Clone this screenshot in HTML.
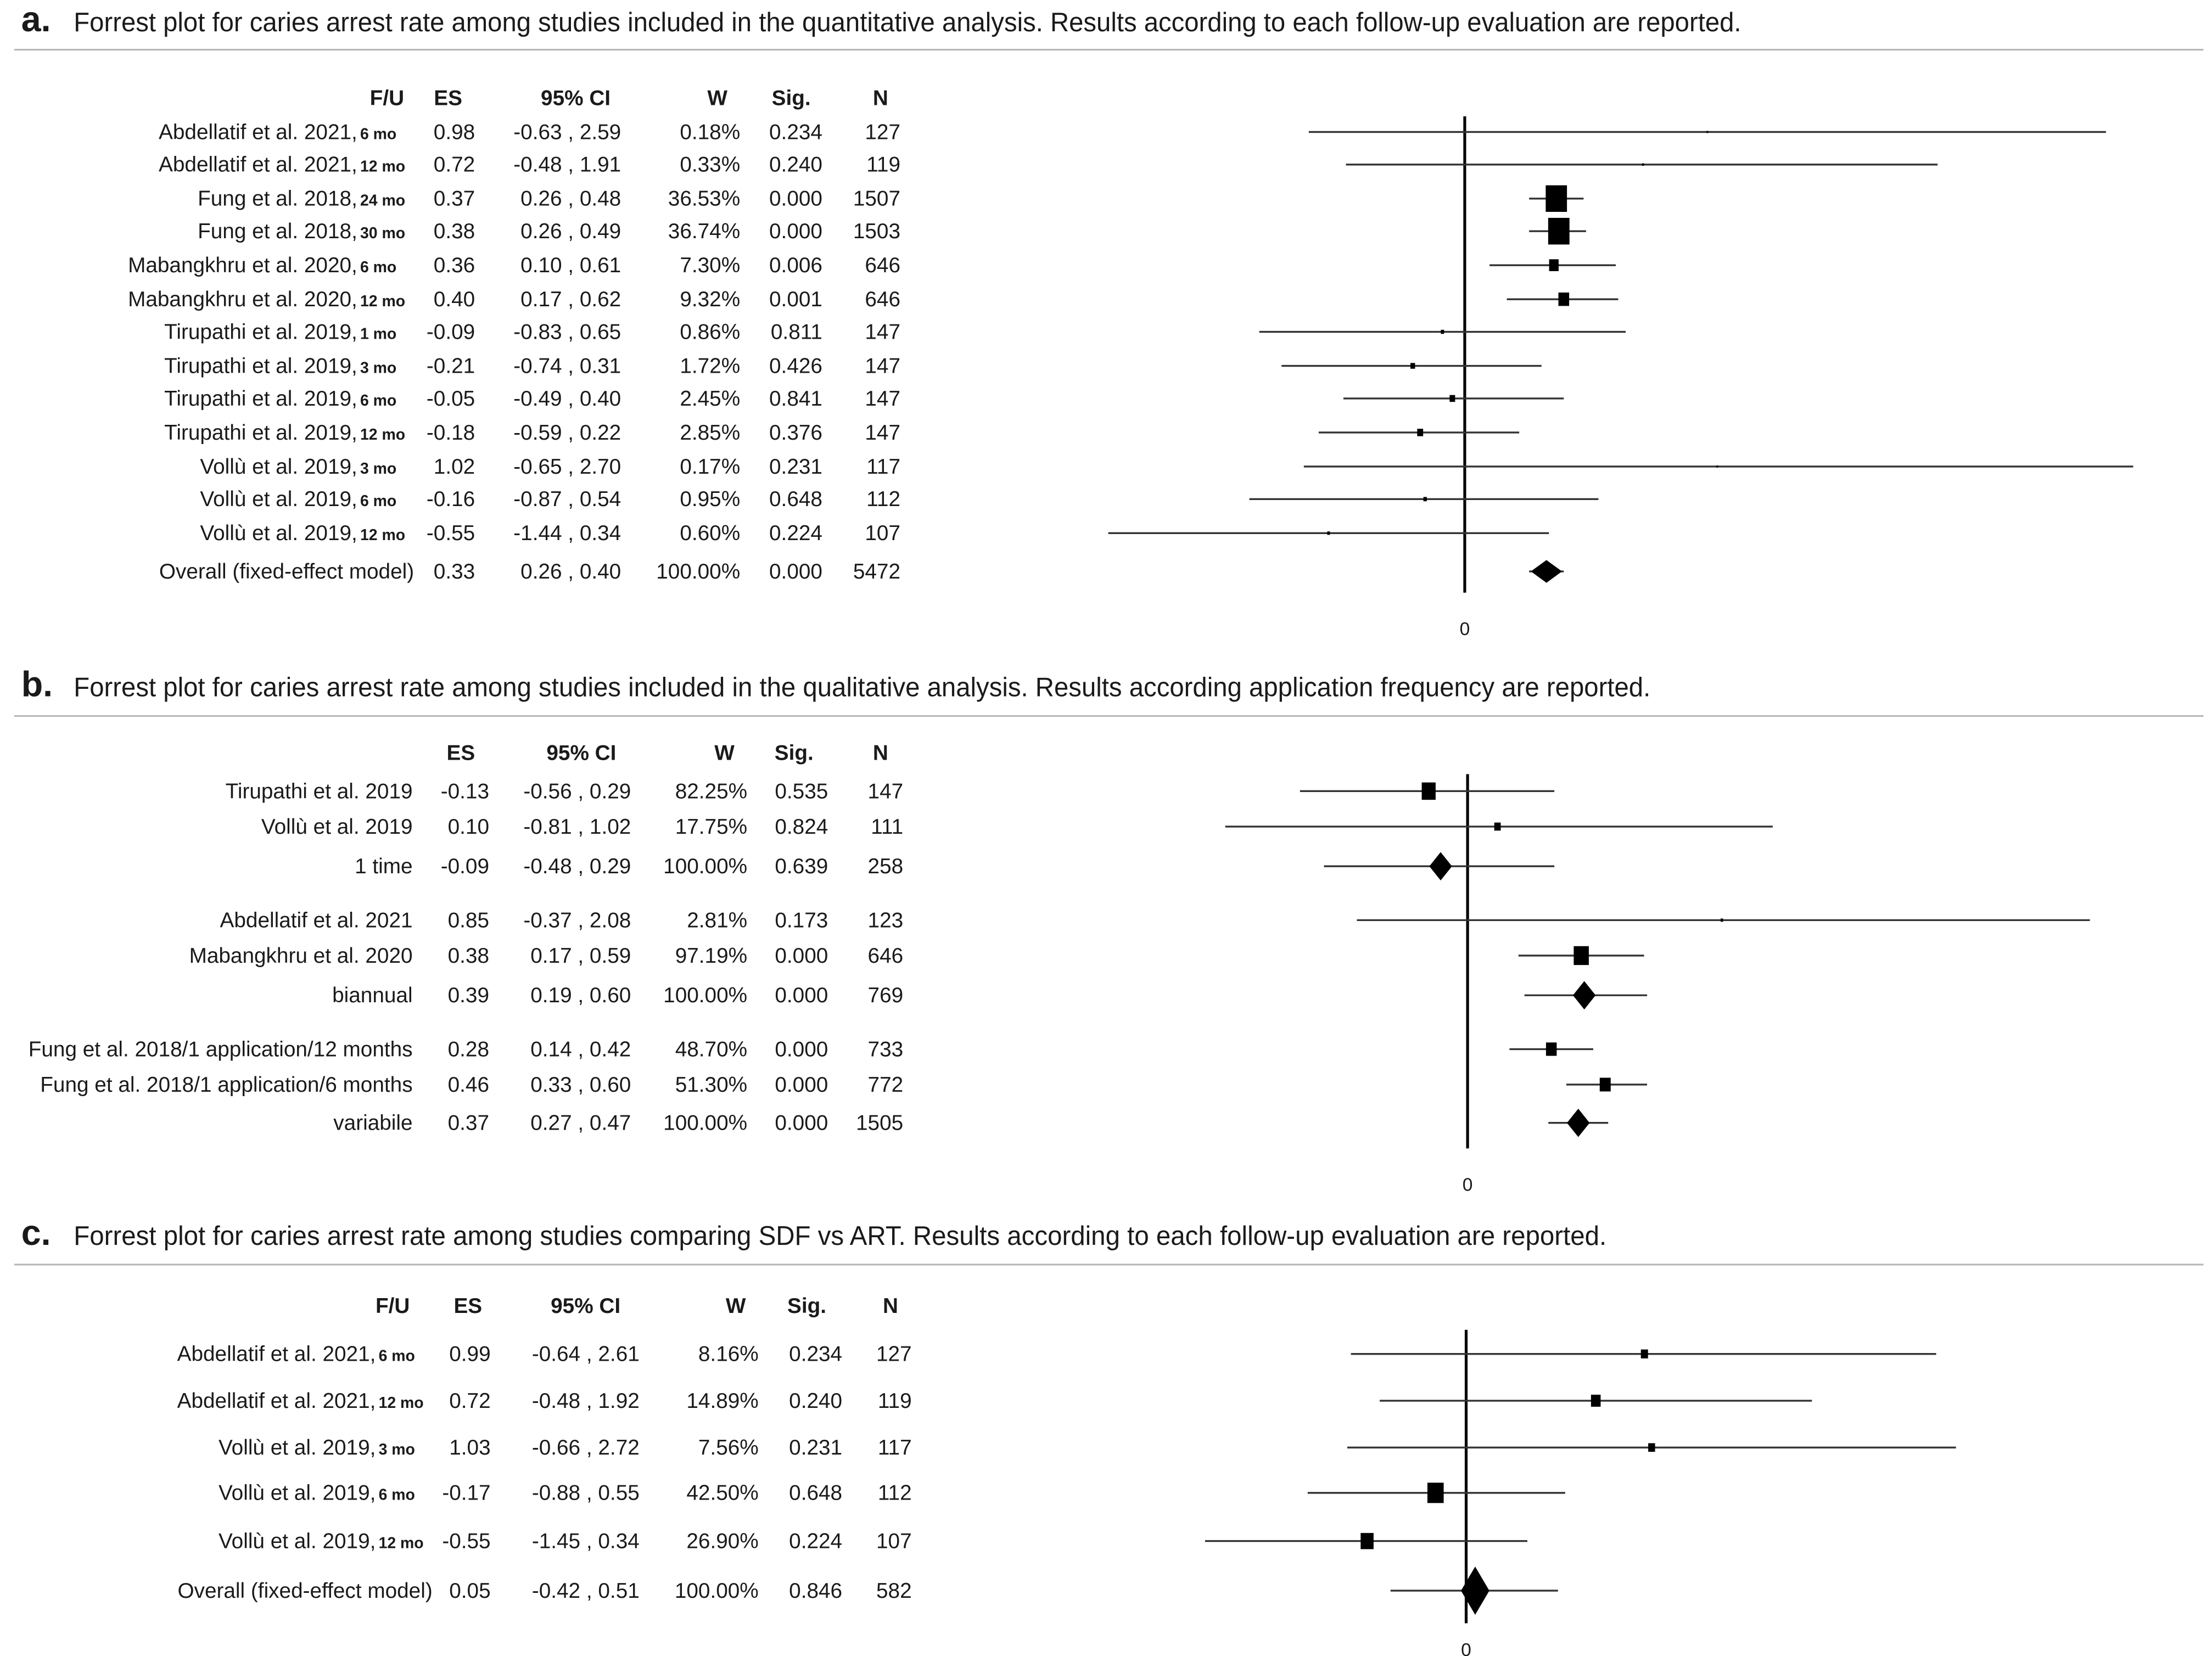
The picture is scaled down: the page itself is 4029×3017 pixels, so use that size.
<!DOCTYPE html>
<html><head><meta charset="utf-8">
<style>
html,body{margin:0;padding:0;background:#fff;}
svg{display:block;}
text{font-family:"Liberation Sans Narrow","Liberation Sans",sans-serif;fill:#1a1a1a;}
</style></head>
<body>
<svg id="fig" xmlns="http://www.w3.org/2000/svg" width="4029" height="3017" viewBox="0 0 1560 1168"></svg>
<script>
// ---------- Panel a data ----------
const aStudies = ["Abdellatif et al. 2021,","Abdellatif et al. 2021,","Fung et al. 2018,","Fung et al. 2018,","Mabangkhru et al. 2020,","Mabangkhru et al. 2020,","Tirupathi et al. 2019,","Tirupathi et al. 2019,","Tirupathi et al. 2019,","Tirupathi et al. 2019,","Vollù et al. 2019,","Vollù et al. 2019,","Vollù et al. 2019,","Overall (fixed-effect model)"];
const aFU = ["6 mo","12 mo","24 mo","30 mo","6 mo","12 mo","1 mo","3 mo","6 mo","12 mo","3 mo","6 mo","12 mo",""];
const aES = [0.98,0.72,0.37,0.38,0.36,0.40,-0.09,-0.21,-0.05,-0.18,1.02,-0.16,-0.55,0.33];
const aLo = [-0.63,-0.48,0.26,0.26,0.10,0.17,-0.83,-0.74,-0.49,-0.59,-0.65,-0.87,-1.44,0.26];
const aHi = [2.59,1.91,0.48,0.49,0.61,0.62,0.65,0.31,0.40,0.22,2.70,0.54,0.34,0.40];
const aW = [0.18,0.33,36.53,36.74,7.30,9.32,0.86,1.72,2.45,2.85,0.17,0.95,0.60,100.00];
const aSig = ["0.234","0.240","0.000","0.000","0.006","0.001","0.811","0.426","0.841","0.376","0.231","0.648","0.224","0.000"];
const aN = [127,119,1507,1503,646,646,147,147,147,147,117,112,107,5472];
const aSummary = [false,false,false,false,false,false,false,false,false,false,false,false,false,true];

// ---------- Panel b data ----------
const bStudies = ["Tirupathi et al. 2019","Vollù et al. 2019","1 time","Abdellatif et al. 2021","Mabangkhru et al. 2020","biannual","Fung et al. 2018/1 application/12 months","Fung et al. 2018/1 application/6 months","variabile"];
const bFU = ["","","","","","","","",""];
const bES = [-0.13,0.10,-0.09,0.85,0.38,0.39,0.28,0.46,0.37];
const bLo = [-0.56,-0.81,-0.48,-0.37,0.17,0.19,0.14,0.33,0.27];
const bHi = [0.29,1.02,0.29,2.08,0.59,0.60,0.42,0.60,0.47];
const bW = [82.25,17.75,100.00,2.81,97.19,100.00,48.70,51.30,100.00];
const bSig = ["0.535","0.824","0.639","0.173","0.000","0.000","0.000","0.000","0.000"];
const bN = [147,111,258,123,646,769,733,772,1505];
const bSummary = [false,false,true,false,false,true,false,false,true];

// ---------- Panel c data ----------
const cStudies = ["Abdellatif et al. 2021,","Abdellatif et al. 2021,","Vollù et al. 2019,","Vollù et al. 2019,","Vollù et al. 2019,","Overall (fixed-effect model)"];
const cFU = ["6 mo","12 mo","3 mo","6 mo","12 mo",""];
const cES = [0.99,0.72,1.03,-0.17,-0.55,0.05];
const cLo = [-0.64,-0.48,-0.66,-0.88,-1.45,-0.42];
const cHi = [2.61,1.92,2.72,0.55,0.34,0.51];
const cW = [8.16,14.89,7.56,42.50,26.90,100.00];
const cSig = ["0.234","0.240","0.231","0.648","0.224","0.846"];
const cN = [127,119,117,112,107,582];
const cSummary = [false,false,false,false,false,true];

const NS = "http://www.w3.org/2000/svg";
const svg = document.getElementById('fig');

function mk(tag, parent){ const e=document.createElementNS(NS,tag); parent.appendChild(e); return e; }
function txt(parent, x, y, s, anchor, size, bold){
  const t = mk('text', parent);
  t.setAttribute('x', x); t.setAttribute('y', y);
  t.setAttribute('text-anchor', anchor);
  t.setAttribute('font-size', size);
  if (bold) t.setAttribute('font-weight','bold');
  t.textContent = s;
  return t;
}
function fmtW(v){ return v.toFixed(2)+"%"; }
function fmt2(v){ return v.toFixed(2); }

function panel(cfg, studies, fu, es, lo, hi, w, sig, n, summ){
  const g = mk('g', svg);
  
  
  // title
  const ty = cfg.titleY;
  const lt = txt(g, 15, ty, cfg.id+'.', 'start', 25, true);
  
  
  const tt = txt(g, 52, ty, cfg.title, 'start', 19, false);
  tt.setAttribute('textLength', cfg.titleLen);
  tt.setAttribute('lengthAdjust', 'spacingAndGlyphs');
  
  
  const sep = mk('line', g);
  sep.setAttribute('x1', 10); sep.setAttribute('x2', 1554);
  sep.setAttribute('y1', cfg.sepY); sep.setAttribute('y2', cfg.sepY);
  sep.setAttribute('stroke', '#b8b8b8'); sep.setAttribute('stroke-width', 1.2);
  
  
  // header
  const hd = cfg.head;
  const heads = [["F/U",hd.fu,'end'],["ES",hd.es,'middle'],["95% CI",hd.ci,'middle'],["W",hd.w,'end'],["Sig.",hd.sig,'middle'],["N",hd.n,'middle']];
  heads.forEach(h=>{
    if (h[1]===null) return;
    const t = txt(g, h[1], cfg.headY, h[0], h[2], 15, true);
    
    
  });
  // axis
  const X = v => cfg.zero + v*cfg.scale;
  const ax = mk('line', g);
  ax.setAttribute('x1', X(0)); ax.setAttribute('x2', X(0));
  ax.setAttribute('y1', cfg.axTop); ax.setAttribute('y2', cfg.axBot);
  ax.setAttribute('stroke', '#000'); ax.setAttribute('stroke-width', 2);
  
  
  const zl = txt(g, X(0), cfg.zeroLabelY, '0', 'middle', 13, false);
  
  
  // rows
  for (let i=0;i<studies.length;i++){
    const y = cfg.rowY[i];
    const row = mk('g', g);
    
    
    const lab = txt(row, cfg.labelX - (fu[i] ? cfg.fuW : 0), y+5, studies[i], 'end', 15, false);
    
    
    if (fu[i]){
      const f = txt(row, cfg.labelX - cfg.fuW + 2, y+5, fu[i], 'start', 11, true);
      
      
    }
    const cols = [[fmt2(es[i]),cfg.col.es],[fmt2(lo[i])+" , "+fmt2(hi[i]),cfg.col.ci],[fmtW(w[i]),cfg.col.w],[sig[i],cfg.col.sig],[String(n[i]),cfg.col.n]];
    cols.forEach(c=>{
      const t = txt(row, c[1], y+5, c[0], 'end', 15, false);
      
      
    });
    // CI line
    const ci = mk('line', row);
    ci.setAttribute('x1', X(lo[i])); ci.setAttribute('x2', X(hi[i]));
    ci.setAttribute('y1', y); ci.setAttribute('y2', y);
    ci.setAttribute('stroke', '#333'); ci.setAttribute('stroke-width', 1.3);
    
    
    if (summ[i]){
      const dw = cfg.dW/2, dh = cfg.dH/2, cx = X(es[i]);
      const d = mk('polygon', row);
      d.setAttribute('points', `${cx-dw},${y} ${cx},${y-dh} ${cx+dw},${y} ${cx},${y+dh}`);
      d.setAttribute('fill', '#000');
      
      
    } else {
      const s = Math.max(1.5, cfg.k*Math.sqrt(w[i]));
      const r = mk('rect', row);
      r.setAttribute('x', X(es[i]) - s*0.4); r.setAttribute('y', y - s/2);
      r.setAttribute('width', s*0.8); r.setAttribute('height', s);
      r.setAttribute('fill', '#000');
      
      
    }
  }
}

panel({id:'a', title:'Forrest plot for caries arrest rate among studies included in the quantitative analysis. Results according to each follow-up evaluation are reported.',
  titleY:22, titleLen:1176, sepY:35, headY:74,
  head:{fu:285, es:316, ci:406, w:513, sig:558, n:621},
  col:{es:335, ci:438, w:522, sig:580, n:635},
  labelX:292, fuW:40,
  rowY:[93,116,140,163,187,211,234,258,281,305,329,352,376,403],
  zero:1033, scale:174.6, axTop:82, axBot:418, zeroLabelY:448, k:3.1, dW:22, dH:16},
  aStudies,aFU,aES,aLo,aHi,aW,aSig,aN,aSummary);

panel({id:'b', title:'Forrest plot for caries arrest rate among studies included in the qualitative analysis. Results according application frequency are reported.',
  titleY:491, titleLen:1112, sepY:505, headY:536,
  head:{fu:null, es:325, ci:410, w:518, sig:560, n:621},
  col:{es:345, ci:445, w:527, sig:584, n:637},
  labelX:291, fuW:0,
  rowY:[558,583,611,649,674,702,740,765,792],
  zero:1035, scale:211, axTop:546, axBot:810, zeroLabelY:840, k:1.35, dW:16, dH:20},
  bStudies,bFU,bES,bLo,bHi,bW,bSig,bN,bSummary);

panel({id:'c', title:'Forrest plot for caries arrest rate among studies comparing SDF vs ART. Results according to each  follow-up evaluation are reported.',
  titleY:878, titleLen:1081, sepY:892, headY:926,
  head:{fu:289, es:330, ci:413, w:526, sig:569, n:628},
  col:{es:346, ci:451, w:535, sig:594, n:643},
  labelX:305, fuW:40,
  rowY:[955,988,1021,1053,1087,1122],
  zero:1034, scale:127, axTop:938, axBot:1145, zeroLabelY:1168, k:2.2, dW:20, dH:34},
  cStudies,cFU,cES,cLo,cHi,cW,cSig,cN,cSummary);
</script>
</body></html>
